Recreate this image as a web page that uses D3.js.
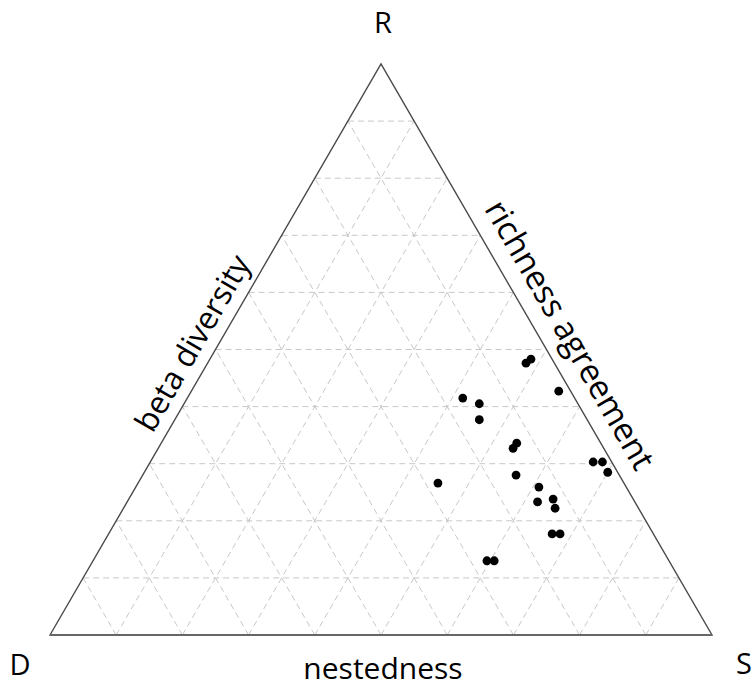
<!DOCTYPE html>
<html>
<head>
<meta charset="utf-8">
<script src="https://cdn.jsdelivr.net/npm/d3@7"></script>
<style>
  body { margin: 0; background: #fff; }
  text { font-family: "Open Sans", sans-serif; fill: #000; }
</style>
</head>
<body>
<div id="chart"></div>
<script>
// ternary compositions: D (beta diversity), R (richness agreement), S (nestedness)
const sampleR = [0.476, 0.483, 0.427, 0.415, 0.405, 0.377, 0.327, 0.336, 0.303, 0.303, 0.285,
  0.280, 0.266, 0.259, 0.233, 0.238, 0.222, 0.177, 0.177, 0.130, 0.130];
const sampleS = [0.481, 0.485, 0.555, 0.416, 0.446, 0.460, 0.536, 0.537, 0.669, 0.683, 0.700,
  0.564, 0.453, 0.609, 0.620, 0.641, 0.652, 0.670, 0.682, 0.595, 0.606];
const sampleD = [0.043, 0.032, 0.018, 0.169, 0.149, 0.163, 0.137, 0.127, 0.028, 0.014, 0.015,
  0.156, 0.281, 0.132, 0.147, 0.121, 0.126, 0.153, 0.141, 0.275, 0.264];
const gridSteps = d3.range(0.1, 1, 0.1);

const width = 752, height = 689;
const svg = d3.select("#chart").append("svg")
  .attr("width", width)
  .attr("height", height);

// horizontal position along base, vertical = R share
const x = d3.scaleLinear().domain([0, 1]).range([50, 712]);
const y = d3.scaleLinear().domain([0, 1]).range([635, 64]);

function project(d, r, s) {
  const tot = d + r + s;
  r = r / tot; s = s / tot;
  return [x(s + r / 2), y(r)];
}

// grid lines, constant value of each component
const grid = svg.append("g")
  .attr("stroke", "#c8c8c8")
  .attr("stroke-width", 1)
  .attr("stroke-dasharray", "6,4")
  .attr("fill", "none");

gridSteps.forEach((t) => {
  // constant R
  let a = project(1 - t, t, 0), b = project(0, t, 1 - t);
  grid.append("line").attr("x1", a[0]).attr("y1", a[1]).attr("x2", b[0]).attr("y2", b[1]);
  // constant S
  a = project(1 - t, 0, t); b = project(0, 1 - t, t);
  grid.append("line").attr("x1", a[0]).attr("y1", a[1]).attr("x2", b[0]).attr("y2", b[1]);
  // constant D
  a = project(t, 0, 1 - t); b = project(t, 1 - t, 0);
  grid.append("line").attr("x1", a[0]).attr("y1", a[1]).attr("x2", b[0]).attr("y2", b[1]);
});

// outline
const cD = project(1, 0, 0), cR = project(0, 1, 0), cS = project(0, 0, 1);
svg.append("path")
  .attr("d", d3.line()([cD, cR, cS]) + "Z")
  .attr("fill", "none")
  .attr("stroke", "#4a4a4a")
  .attr("stroke-width", 1.4);
svg.append("line")
  .attr("x1", cD[0]).attr("y1", cD[1]).attr("x2", cS[0]).attr("y2", cS[1])
  .attr("stroke", "#666")
  .attr("stroke-width", 2);

// points
svg.append("g")
  .selectAll("circle")
  .data(sampleR.map((r, i) => project(sampleD[i], r, sampleS[i])))
  .enter()
  .append("circle")
  .attr("cx", (d) => d[0])
  .attr("cy", (d) => d[1])
  .attr("r", 4.4)
  .attr("fill", "#000");

// corner labels
svg.append("text").attr("x", cR[0] + 2).attr("y", 33)
  .attr("text-anchor", "middle").attr("font-size", 29).text("R");
svg.append("text").attr("x", 20).attr("y", 675)
  .attr("text-anchor", "middle").attr("font-size", 29).text("D");
svg.append("text").attr("x", 744).attr("y", 674)
  .attr("text-anchor", "middle").attr("font-size", 29).text("S");

// edge labels
svg.append("text").attr("x", (cD[0] + cS[0]) / 2 + 2).attr("y", 679)
  .attr("text-anchor", "middle").attr("font-size", 30).text("nestedness");

const off = 12;
const mL = [(cD[0] + cR[0]) / 2 - 0.866 * off - 3, (cD[1] + cR[1]) / 2 - 0.5 * off + 5];
svg.append("text")
  .attr("transform", `translate(${mL[0]},${mL[1]}) rotate(-60)`)
  .attr("text-anchor", "middle").attr("font-size", 31.5).text("beta diversity");

const mRt = [(cR[0] + cS[0]) / 2 + 0.866 * off + 3, (cR[1] + cS[1]) / 2 - 0.5 * off - 3];
svg.append("text")
  .attr("transform", `translate(${mRt[0]},${mRt[1]}) rotate(60)`)
  .attr("text-anchor", "middle").attr("font-size", 33).text("richness agreement");
</script>
</body>
</html>
